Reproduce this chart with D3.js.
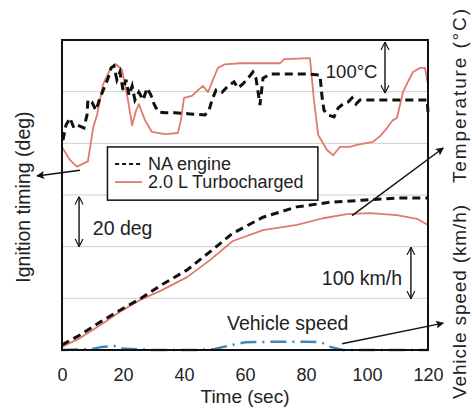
<!DOCTYPE html>
<html>
<head>
<meta charset="utf-8">
<script src="https://cdn.jsdelivr.net/npm/d3@7"></script>
<style>
  body { margin: 0; background: #fff; }
  text { font-family: "Liberation Sans", Arial, Helvetica, sans-serif; fill: #222; }
</style>
</head>
<body>
<svg id="chart" width="472" height="411"></svg>
<script>
// values are in grid units (one grid step = 20 deg / 100 degC / 100 km/h)
const timeTicks = [0, 20, 40, 60, 80, 100, 120];
const gridLevels = [1, 2, 3, 4, 5];

const naUpperT = [0.3, 1.3, 2.6, 3.9, 5.2, 7.2, 8.2, 8.5, 9.8, 11.1, 12.5, 13.8, 15.1, 16.1, 17, 18, 19, 20, 21, 22, 23, 23.9, 25.2, 26.6, 27.9, 29.2, 30.2, 31.5, 33.8, 37, 42, 46.9, 48.2, 49.2, 50.5, 52.5, 54.4, 56.4, 57.7, 59.3, 61, 62.6, 63.6, 64.3, 64.9, 65.9, 68.2, 74.8, 81.3, 84.6, 85.2, 85.9, 87.2, 89.2, 90.5, 92.1, 93.8, 95.1, 96.4, 97.7, 104.3, 110.8, 119.7, 120];
const naUpper = [4.06, 4.35, 4.49, 4.3, 4.35, 4.3, 4.55, 4.84, 4.8, 4.64, 4.88, 5.07, 5.26, 5.46, 5.5, 5.23, 5.38, 5.03, 5.23, 4.93, 5.11, 4.84, 4.99, 4.84, 5.07, 4.93, 4.76, 4.61, 4.59, 4.59, 4.57, 4.55, 4.64, 4.84, 5.03, 4.99, 5.11, 5.19, 5.07, 5.15, 5.26, 5.38, 5.26, 4.99, 4.74, 5.26, 5.34, 5.34, 5.34, 5.32, 4.93, 4.64, 4.55, 4.51, 4.68, 4.76, 4.8, 4.88, 4.76, 4.84, 4.84, 4.84, 4.84, 4.61];

const turboUpperT = [0, 2.6, 4.9, 8.5, 10.2, 11.5, 13.4, 15.7, 17.7, 19.7, 21.6, 23, 24.3, 25.2, 27.2, 29.5, 33.8, 38, 39, 40, 42.6, 44.6, 46.2, 47.9, 49.5, 51.1, 53.4, 58.4, 71.5, 72.8, 81.3, 82.6, 84, 86.9, 88.9, 91.1, 94.4, 96.7, 99.3, 102, 104.3, 106.6, 108.5, 109.8, 111.8, 113.4, 115.1, 117.4, 119, 120];
const turboUpper = [3.93, 3.68, 3.55, 3.65, 4.3, 4.55, 5.13, 5.42, 5.53, 5.42, 4.84, 4.35, 4.64, 4.76, 4.45, 4.22, 4.18, 4.2, 4.45, 4.88, 4.92, 5.03, 5.11, 4.99, 5.23, 5.46, 5.53, 5.55, 5.55, 5.63, 5.65, 4.84, 4.16, 3.87, 3.77, 3.93, 3.93, 3.97, 4.0, 4.03, 4.14, 4.3, 4.45, 4.49, 4.99, 5.19, 5.38, 5.46, 5.46, 5.13];

const naLowerT = [0, 5.9, 12.5, 19, 25.6, 32.1, 41, 48.5, 56, 65.9, 77, 87.9, 98.7, 109.2, 120];
const naLower = [0.1, 0.29, 0.54, 0.77, 0.99, 1.24, 1.55, 1.9, 2.26, 2.57, 2.77, 2.86, 2.9, 2.94, 2.94];

const turboLowerT = [0, 5.9, 12.5, 19, 25.6, 32.1, 41, 48.5, 56, 65.9, 77, 85.6, 93.4, 101, 109.8, 116.4, 120];
const turboLower = [0.06, 0.23, 0.48, 0.74, 0.97, 1.14, 1.41, 1.74, 2.11, 2.32, 2.42, 2.55, 2.63, 2.65, 2.61, 2.54, 2.42];

const speedT = [0, 10, 13, 17, 19, 30, 45, 50, 53, 56, 60, 70, 80, 85, 88, 92, 120];
const speed = [0, 0.02, 0.06, 0.08, 0.03, 0, 0, 0.02, 0.06, 0.1, 0.15, 0.16, 0.16, 0.15, 0.06, 0, 0];

const legendLabels = ['NA engine', '2.0 L Turbocharged'];

const svg = d3.select('#chart');
const margin = {top: 40, right: 44, bottom: 61, left: 62};
const width = +svg.attr('width') - margin.left - margin.right;
const height = +svg.attr('height') - margin.top - margin.bottom;

const x = d3.scaleLinear().domain([0, 120]).range([margin.left, margin.left + width]);
const y = d3.scaleLinear().domain([0, 6]).range([margin.top + height, margin.top]);

const defs = svg.append('defs');
defs.append('marker')
  .attr('id', 'solid')
  .attr('viewBox', '0 0 10 10')
  .attr('refX', 9).attr('refY', 5)
  .attr('markerWidth', 10).attr('markerHeight', 8)
  .attr('markerUnits', 'userSpaceOnUse')
  .attr('orient', 'auto')
  .append('path').attr('d', 'M0,0 L10,5 L0,10 L2,5 Z').attr('fill', '#111');
defs.append('marker')
  .attr('id', 'open')
  .attr('viewBox', '0 0 10 10')
  .attr('refX', 10).attr('refY', 5)
  .attr('markerWidth', 8).attr('markerHeight', 16)
  .attr('markerUnits', 'userSpaceOnUse')
  .attr('orient', 'auto-start-reverse')
  .append('path').attr('d', 'M0,0 L10,5 L0,10').attr('fill', 'none').attr('stroke', '#111').attr('stroke-width', 1.4);

// gridlines
svg.append('g')
  .selectAll('line')
  .data(gridLevels)
  .join('line')
  .attr('x1', x(0)).attr('x2', x(120))
  .attr('y1', d => y(d)).attr('y2', d => y(d))
  .attr('stroke', '#cfcfcf')
  .attr('stroke-width', 1);

const line = d3.line()
  .x(d => x(d[0]))
  .y(d => y(d[1]));

const zip = (t, v) => t.map((d, i) => [d, v[i]]);

// turbocharged (red)
[zip(turboUpperT, turboUpper), zip(turboLowerT, turboLower)].forEach(s => {
  svg.append('path')
    .datum(s)
    .attr('fill', 'none')
    .attr('stroke', '#e07a6c')
    .attr('stroke-width', 1.8)
    .attr('stroke-linejoin', 'round')
    .attr('d', line);
});

// NA engine (black dashed)
[zip(naUpperT, naUpper), zip(naLowerT, naLower)].forEach(s => {
  svg.append('path')
    .datum(s)
    .attr('fill', 'none')
    .attr('stroke', '#111')
    .attr('stroke-width', 3)
    .attr('stroke-dasharray', '8,5')
    .attr('d', line);
});

// vehicle speed (blue dash-dot)
svg.append('path')
  .datum(zip(speedT, speed))
  .attr('fill', 'none')
  .attr('stroke', '#3f88b4')
  .attr('stroke-width', 2.5)
  .attr('stroke-dasharray', '16,6,2,6')
  .attr('d', line);

// frame
svg.append('rect')
  .attr('x', x(0)).attr('y', y(6))
  .attr('width', x(120) - x(0)).attr('height', y(0) - y(6))
  .attr('fill', 'none')
  .attr('stroke', '#111')
  .attr('stroke-width', 2);

// x axis
const xAxis = svg.append('g')
  .attr('transform', 'translate(0,' + y(0) + ')')
  .call(d3.axisBottom(x).tickValues(timeTicks).tickSize(0).tickPadding(18));
xAxis.select('.domain').remove();
xAxis.selectAll('text')
  .style('font-family', '"Liberation Sans", Arial, sans-serif')
  .style('font-size', '18px')
  .attr('fill', '#222');

svg.append('text')
  .attr('x', x(60)).attr('y', 403)
  .attr('text-anchor', 'middle')
  .style('font-size', '19px')
  .text('Time (sec)');

svg.append('text')
  .attr('transform', 'translate(30,' + y(2.96) + ') rotate(-90)')
  .attr('text-anchor', 'middle')
  .style('font-size', '19.5px')
  .text('Ignition timing (deg)');

svg.append('text')
  .attr('transform', 'translate(466,399) rotate(-90)')
  .attr('textLength', 194)
  .style('font-size', '19px')
  .text('Vehicle speed (km/h)');

svg.append('text')
  .attr('transform', 'translate(466,183) rotate(-90)')
  .attr('textLength', 174)
  .style('font-size', '19px')
  .text('Temperature (\u00B0C)');

// legend
const legend = svg.append('g');
legend.append('rect')
  .attr('x', x(14.9)).attr('y', y(3.93))
  .attr('width', x(83.9) - x(14.9)).attr('height', y(2.9) - y(3.93))
  .attr('fill', '#fff')
  .attr('stroke', '#111')
  .attr('stroke-width', 1.5);
legend.append('line')
  .attr('x1', x(17.4)).attr('x2', x(26.2))
  .attr('y1', y(3.6)).attr('y2', y(3.6))
  .attr('stroke', '#111').attr('stroke-width', 1.8).attr('stroke-dasharray', '4,3');
legend.append('line')
  .attr('x1', x(17.4)).attr('x2', x(26.2))
  .attr('y1', y(3.25)).attr('y2', y(3.25))
  .attr('stroke', '#e07a6c').attr('stroke-width', 1.8);
legend.selectAll('text.lg')
  .data(legendLabels)
  .join('text')
  .attr('class', 'lg')
  .attr('x', x(28.2))
  .attr('y', (d, i) => y(3.6 - i * 0.35) + 6)
  .style('font-size', '18px')
  .text(d => d);

// double-headed scale arrows
const scaleBars = [
  {t: 105.9, from: 5.96, to: 4.97},
  {t: 5.6, from: 2.97, to: 2.0},
  {t: 114.4, from: 1.99, to: 0.99}
];
svg.selectAll('line.bar')
  .data(scaleBars)
  .join('line')
  .attr('class', 'bar')
  .attr('x1', d => x(d.t)).attr('x2', d => x(d.t))
  .attr('y1', d => y(d.from)).attr('y2', d => y(d.to))
  .attr('stroke', '#111').attr('stroke-width', 1.4)
  .attr('marker-start', 'url(#open)')
  .attr('marker-end', 'url(#open)');

// pointer arrows
const pointers = [
  {t0: 5.9, v0: 3.48, t1: -8.2, v1: 3.37},
  {t0: 95.1, v0: 2.6, t1: 125, v1: 3.91},
  {t0: 91.8, v0: 0.12, t1: 125, v1: 0.52}
];
svg.selectAll('line.ptr')
  .data(pointers)
  .join('line')
  .attr('class', 'ptr')
  .attr('x1', d => x(d.t0)).attr('y1', d => y(d.v0))
  .attr('x2', d => x(d.t1)).attr('y2', d => y(d.v1))
  .attr('stroke', '#111').attr('stroke-width', 1.5)
  .attr('marker-end', 'url(#solid)');

// annotations
const notes = [
  {t: 86.5, v: 5.27, text: '100\u00B0C', size: 18.5},
  {t: 10.1, v: 2.23, text: '20 deg', size: 19.5},
  {t: 85.2, v: 1.25, text: '100 km/h', size: 19.5},
  {t: 54.1, v: 0.39, text: 'Vehicle speed', size: 19.5}
];
svg.selectAll('text.note')
  .data(notes)
  .join('text')
  .attr('class', 'note')
  .attr('x', d => x(d.t))
  .attr('y', d => y(d.v))
  .style('font-size', d => d.size + 'px')
  .text(d => d.text);
</script>
</body>
</html>
